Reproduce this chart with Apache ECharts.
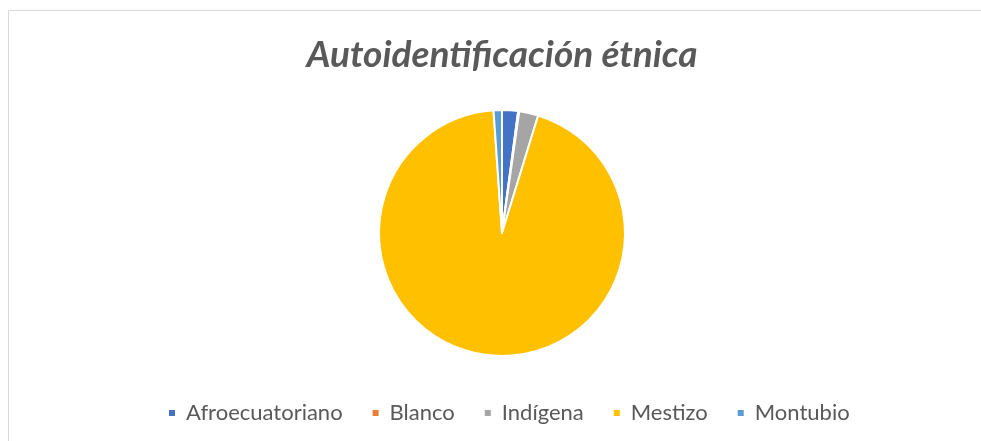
<!DOCTYPE html>
<html><head><meta charset="utf-8">
<script src="https://cdn.jsdelivr.net/npm/echarts@6/dist/echarts.min.js"></script>
<style>html,body{margin:0;padding:0;background:#fff}#c{width:981px;height:441px}</style>
</head><body><div id="c"></div>
<script>
const categories = ['Afroecuatoriano', 'Blanco', 'Indígena', 'Mestizo', 'Montubio'];
const values = [2.1, 0.15, 2.5, 94.15, 1.1];
const colors = ['#4472C4', '#ED7D31', '#A5A5A5', '#FFC000', '#5B9BD5'];

const chart = echarts.init(document.getElementById('c'), null, {renderer: 'canvas'});
chart.setOption({
  animation: false,
  color: colors,
  title: {
    text: 'Autoidentificación étnica',
    left: 497, top: 32, textAlign: 'center',
    textStyle: {fontFamily: 'Lato', fontStyle: 'italic', fontWeight: 'bold', fontSize: 37, color: '#595959'}
  },
  legend: {
    top: 397, left: 162,
    icon: 'rect', itemWidth: 8, itemHeight: 8, itemGap: 28,
    textStyle: {fontFamily: 'Lato', fontSize: 22, color: '#595959', padding: [0, 0, 0, 5]},
    data: categories
  },
  graphic: [{
    type: 'rect', shape: {x: 8.5, y: 10.5, width: 990, height: 450},
    style: {fill: 'none', stroke: '#d9d9d9', lineWidth: 1}, silent: true
  }],
  series: [{
    type: 'pie',
    center: [502, 233],
    radius: [0, 123],
    startAngle: 90,
    clockwise: true,
    label: {show: false},
    labelLine: {show: false},
    itemStyle: {borderColor: '#fff', borderWidth: 2},
    data: categories.map((n, i) => ({name: n, value: values[i]}))
  }]
});
</script></body></html>
